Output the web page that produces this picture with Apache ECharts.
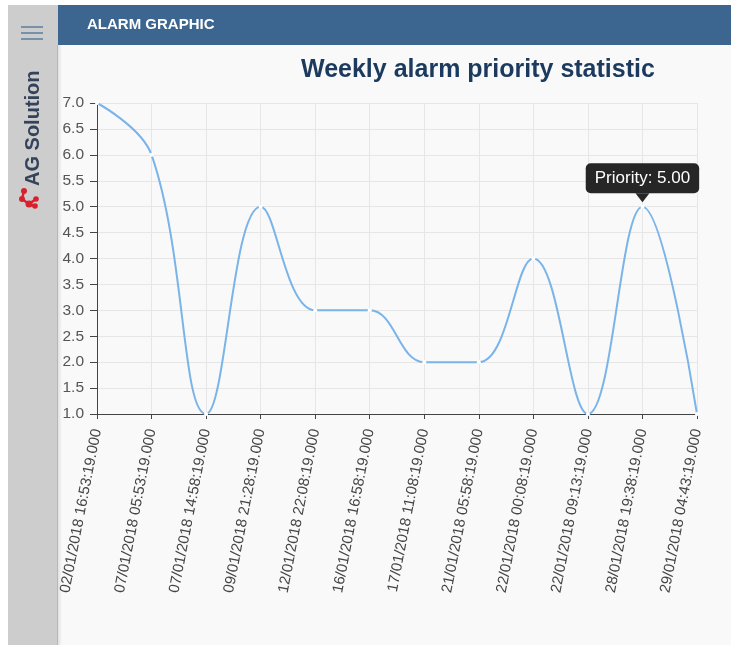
<!DOCTYPE html>
<html><head><meta charset="utf-8">
<script src="https://cdn.jsdelivr.net/npm/echarts@6/dist/echarts.min.js"></script>
<style>html,body{margin:0;padding:0;background:#fff}#c{width:731px;height:645px}</style>
</head><body><div id="c"></div>
<script>
var categories = ["02/01/2018 16:53:19.000","07/01/2018 05:53:19.000","07/01/2018 14:58:19.000","09/01/2018 21:28:19.000","12/01/2018 22:08:19.000","16/01/2018 16:58:19.000","17/01/2018 11:08:19.000","21/01/2018 05:58:19.000","22/01/2018 00:08:19.000","22/01/2018 09:13:19.000","28/01/2018 19:38:19.000","29/01/2018 04:43:19.000"];
var priority = [7, 6, 1, 5, 3, 3, 2, 2, 4, 1, 5, 1];
var tooltipIndex = 10;
var yTicks = {min: 1, max: 7, interval: 0.5};

var chart = echarts.init(document.getElementById('c'), null, {renderer: 'canvas'});
var F = 'Liberation Sans, Arial, sans-serif';
var RED = '#d9202f';
chart.setOption({
  backgroundColor: '#ffffff',
  animation: false,
  graphic: [
    {type: 'rect', shape: {x: 58, y: 45, width: 673, height: 600}, style: {fill: '#f9f9f9'}, z: -10},
    {type: 'rect', shape: {x: 8, y: 5, width: 50, height: 640}, style: {fill: '#cdcdcd'}, z: -5},
    {type: 'rect', shape: {x: 57, y: 45, width: 5, height: 600}, style: {fill: new echarts.graphic.LinearGradient(0,0,1,0,[{offset:0,color:'rgba(0,0,0,0.12)'},{offset:1,color:'rgba(0,0,0,0)'}])}, z: -5},
    {type: 'rect', shape: {x: 58, y: 5, width: 673, height: 40}, style: {fill: '#3c6690'}, z: -5},
    {type: 'text', left: 87, top: 17, style: {text: 'ALARM GRAPHIC', fill: '#ffffff', font: 'bold 15px ' + F}},
    {type: 'rect', shape: {x: 21, y: 26, width: 22, height: 2}, style: {fill: '#7891ab'}},
    {type: 'rect', shape: {x: 21, y: 32, width: 22, height: 2}, style: {fill: '#7891ab'}},
    {type: 'rect', shape: {x: 21, y: 38, width: 22, height: 2}, style: {fill: '#7891ab'}},
    {type: 'text', x: 33, y: 186, rotation: Math.PI / 2, style: {text: 'AG Solution', fill: '#34435a', font: 'bold 20px ' + F, textAlign: 'left', textVerticalAlign: 'middle'}},
    {type: 'line', shape: {x1: 24, y1: 191, x2: 22, y2: 199}, style: {stroke: RED, lineWidth: 2.5}},
    {type: 'line', shape: {x1: 22, y1: 199, x2: 29, y2: 204}, style: {stroke: RED, lineWidth: 2.5}},
    {type: 'line', shape: {x1: 29, y1: 204, x2: 34, y2: 206}, style: {stroke: RED, lineWidth: 2.5}},
    {type: 'line', shape: {x1: 29, y1: 204, x2: 36, y2: 199}, style: {stroke: RED, lineWidth: 2.5}},
    {type: 'circle', shape: {cx: 24, cy: 191, r: 3}, style: {fill: RED}},
    {type: 'circle', shape: {cx: 22, cy: 199, r: 3}, style: {fill: RED}},
    {type: 'circle', shape: {cx: 29, cy: 204, r: 3.5}, style: {fill: RED}},
    {type: 'circle', shape: {cx: 35, cy: 206, r: 2.8}, style: {fill: RED}},
    {type: 'circle', shape: {cx: 36, cy: 199, r: 2.8}, style: {fill: RED}}
  ],
  title: {
    text: 'Weekly alarm priority statistic',
    left: 296, top: 53,
    textStyle: {fontFamily: F, fontWeight: 'bold', fontSize: 25, color: '#1b3a5e'}
  },
  grid: {left: 97, right: 34, top: 103, bottom: 231, containLabel: false},
  xAxis: {
    type: 'category', data: categories, boundaryGap: false,
    axisLine: {lineStyle: {color: '#444', width: 1}},
    axisTick: {show: true, length: 5, inside: false, lineStyle: {color: '#444'}, alignWithLabel: true},
    axisLabel: {rotate: 79, interval: 0, margin: 15, fontFamily: F, fontSize: 15, color: '#444'},
    splitLine: {show: true, lineStyle: {color: '#e6e6e6'}}
  },
  yAxis: {
    type: 'value', min: yTicks.min, max: yTicks.max, interval: yTicks.interval,
    axisLine: {show: true, lineStyle: {color: '#444', width: 1}},
    axisTick: {show: true, length: 7, lineStyle: {color: '#444'}},
    axisLabel: {margin: 13, fontFamily: F, fontSize: 15.5, color: '#555', formatter: function (v) { return v.toFixed(1); }},
    splitLine: {show: true, lineStyle: {color: '#e6e6e6'}}
  },
  series: [{
    type: 'line', data: priority, smooth: 0.4,
    symbol: 'circle', symbolSize: 4, showSymbol: true,
    lineStyle: {color: '#7ab4e8', width: 2},
    itemStyle: {color: '#ffffff', borderWidth: 0},
    markPoint: {
      symbol: 'triangle', symbolRotate: 180, symbolSize: [14, 9], symbolOffset: [0, -9],
      itemStyle: {color: '#262626'},
      label: {
        show: true, position: 'top', distance: 0,
        formatter: function (p) { return 'Priority: ' + p.value.toFixed(2); },
        backgroundColor: '#262626', color: '#ffffff', borderRadius: 5,
        padding: [7, 9, 6, 9], fontFamily: F, fontSize: 17
      },
      data: [{coord: [tooltipIndex, priority[tooltipIndex]], value: priority[tooltipIndex]}]
    }
  }]
});
</script></body></html>
